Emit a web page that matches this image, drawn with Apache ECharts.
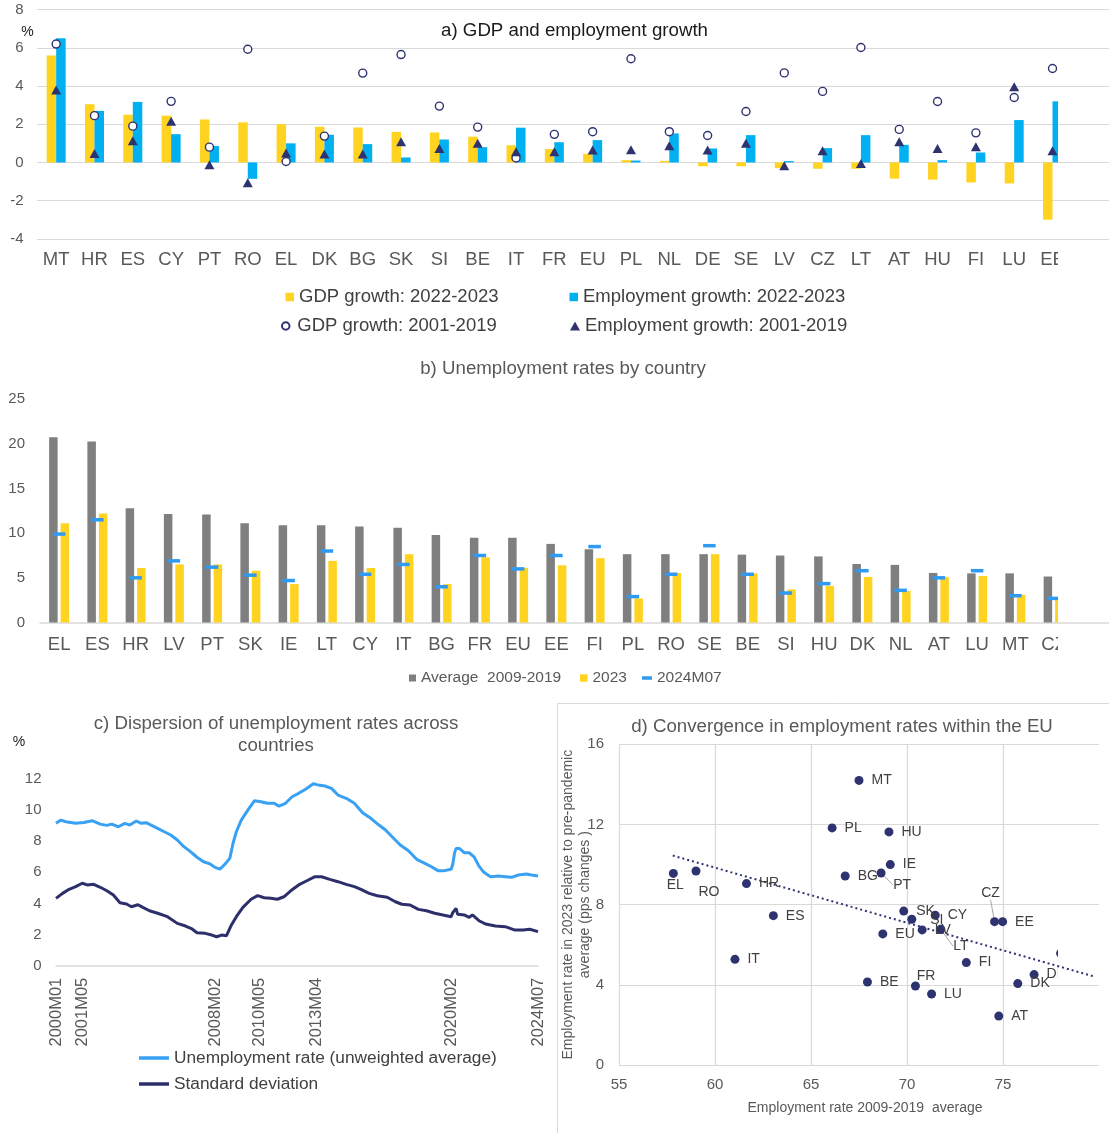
<!DOCTYPE html>
<html>
<head>
<meta charset="utf-8">
<title>Labour market indicators</title>
<script src="https://cdn.jsdelivr.net/npm/echarts@6/dist/echarts.min.js"></script>
<style>
  html, body { margin: 0; padding: 0; background: #fff; }
  #base  { position: absolute; left: 0; top: 0; width: 1109px; height: 1133px; }
  #marks { position: absolute; left: 0; top: 0; width: 1058px; height: 1133px; }
</style>
</head>
<body>
<div id="base"></div>
<div id="marks"></div>
<script>
// ---------- a) GDP and employment growth (%) ----------
const gdpCountries = ['MT','HR','ES','CY','PT','RO','EL','DK','BG','SK','SI','BE','IT','FR','EU','PL','NL','DE','SE','LV','CZ','LT','AT','HU','FI','LU','EE'];
const gdpGrowth2223 = [5.6, 3.05, 2.5, 2.45, 2.25, 2.1, 2.0, 1.87, 1.83, 1.6, 1.57, 1.35, 0.9, 0.7, 0.45, 0.12, 0.08, -0.2, -0.2, -0.3, -0.33, -0.33, -0.85, -0.9, -1.05, -1.1, -3.0];
const empGrowth2223 = [6.5, 2.7, 3.17, 1.48, 0.86, -0.86, 1.0, 1.45, 0.96, 0.26, 1.2, 0.8, 1.82, 1.06, 1.17, 0.1, 1.52, 0.73, 1.43, 0.07, 0.75, 1.43, 0.92, 0.12, 0.52, 2.22, 3.2];
const gdpGrowth0119 = [6.2, 2.45, 1.9, 3.2, 0.8, 5.93, 0.05, 1.38, 4.68, 5.65, 2.95, 1.85, 0.23, 1.47, 1.61, 5.43, 1.61, 1.41, 2.67, 4.69, 3.72, 6.02, 1.73, 3.19, 1.55, 3.4, 4.92];
const empGrowth0119 = [3.8, 0.47, 1.13, 2.16, -0.12, -1.06, 0.5, 0.44, 0.44, 1.08, 0.73, 1.0, 0.56, 0.56, 0.65, 0.66, 0.87, 0.65, 1.0, -0.17, 0.61, -0.05, 1.08, 0.73, 0.82, 3.96, 0.61];

// ---------- b) Unemployment rates by country (%) ----------
const ueCountries = ['EL','ES','HR','LV','PT','SK','IE','LT','CY','IT','BG','FR','EU','EE','FI','PL','RO','SE','BE','SI','HU','DK','NL','AT','LU','MT','CZ'];
const ueAvg0919 = [20.75, 20.26, 12.8, 12.16, 12.1, 11.1, 10.9, 10.9, 10.75, 10.6, 9.8, 9.5, 9.5, 8.8, 8.2, 7.65, 7.65, 7.65, 7.6, 7.5, 7.4, 6.55, 6.45, 5.55, 5.5, 5.5, 5.15];
const ue2023 = [11.1, 12.2, 6.1, 6.5, 6.5, 5.8, 4.3, 6.9, 6.1, 7.65, 4.3, 7.3, 6.1, 6.4, 7.2, 2.7, 5.55, 7.65, 5.5, 3.7, 4.1, 5.1, 3.55, 5.1, 5.2, 3.1, 2.6];
const ue2024M07 = [9.9, 11.5, 5.0, 6.9, 6.2, 5.3, 4.7, 8.0, 5.4, 6.5, 4.0, 7.5, 6.0, 7.5, 8.5, 2.9, 5.4, 8.6, 5.4, 3.3, 4.35, 5.8, 3.6, 5.0, 5.8, 3.0, 2.7];

// ---------- c) Dispersion of unemployment rates (%) ----------
const firstMonth = '2000M01', lastMonth = '2024M07';
const cTickLabels = ['2000M01','2001M05','2008M02','2010M05','2013M04','2020M02','2024M07'];
const urMonths = ['2000M01','2000M04','2000M07','2001M01','2001M06','2001M11','2002M04','2002M08','2002M11','2003M03','2003M07','2003M10','2004M02','2004M05','2004M08','2004M11','2005M03','2005M07','2005M11','2006M03','2006M07','2006M11','2007M03','2007M07','2007M11','2008M02','2008M05','2008M08','2008M11','2009M01','2009M03','2009M06','2009M10','2010M02','2010M06','2010M10','2011M02','2011M05','2011M09','2012M01','2012M05','2012M09','2013M02','2013M05','2013M09','2014M01','2014M05','2014M10','2015M03','2015M08','2016M01','2016M06','2016M10','2017M02','2017M07','2017M12','2018M05','2018M10','2019M02','2019M06','2019M10','2020M02','2020M03','2020M04','2020M05','2020M07','2020M10','2021M01','2021M04','2021M07','2021M10','2022M02','2022M07','2022M11','2023M03','2023M07','2023M12','2024M03','2024M07'];
const urValues = [9.15, 9.36, 9.25, 9.15, 9.2, 9.32, 9.1, 9.02, 9.1, 8.93, 9.15, 9.04, 9.3, 9.15, 9.19, 9.04, 8.83, 8.61, 8.4, 8.08, 7.65, 7.33, 6.97, 6.68, 6.54, 6.32, 6.21, 6.52, 6.9, 7.87, 8.61, 9.36, 10.0, 10.6, 10.54, 10.44, 10.44, 10.26, 10.44, 10.86, 11.08, 11.33, 11.7, 11.61, 11.55, 11.4, 10.97, 10.76, 10.44, 9.83, 9.47, 9.04, 8.72, 8.29, 7.76, 7.39, 6.84, 6.58, 6.36, 6.11, 6.11, 6.2, 6.5, 7.2, 7.54, 7.54, 7.26, 7.26, 7.0, 6.4, 6.0, 5.72, 5.76, 5.72, 5.68, 5.83, 5.89, 5.83, 5.76];
const sdMonths = ['2000M01','2000M05','2000M09','2001M01','2001M05','2001M08','2001M12','2002M04','2002M08','2002M12','2003M04','2003M08','2003M11','2004M03','2004M06','2004M10','2005M03','2005M09','2006M03','2006M08','2006M12','2007M03','2007M08','2007M12','2008M03','2008M06','2008M09','2008M12','2009M03','2009M07','2009M12','2010M04','2010M08','2010M12','2011M04','2011M08','2011M12','2012M05','2012M10','2013M03','2013M07','2013M12','2014M05','2014M10','2015M03','2015M07','2015M12','2016M05','2016M11','2017M04','2017M08','2018M01','2018M06','2018M11','2019M04','2019M09','2020M02','2020M03','2020M05','2020M06','2020M10','2021M01','2021M03','2021M07','2021M11','2022M05','2022M11','2023M05','2023M10','2024M02','2024M07'];
const sdValues = [4.33, 4.65, 4.91, 5.08, 5.3, 5.19, 5.23, 5.04, 4.82, 4.54, 4.05, 3.97, 3.79, 3.92, 3.75, 3.53, 3.37, 3.15, 2.72, 2.55, 2.36, 2.12, 2.08, 1.97, 1.86, 1.97, 1.93, 2.62, 3.15, 3.75, 4.27, 4.5, 4.37, 4.33, 4.27, 4.43, 4.8, 5.19, 5.46, 5.72, 5.72, 5.55, 5.4, 5.23, 5.08, 4.91, 4.65, 4.5, 4.4, 4.11, 3.95, 3.9, 3.62, 3.53, 3.37, 3.26, 3.15, 3.41, 3.69, 3.3, 3.26, 3.11, 3.26, 2.89, 2.68, 2.55, 2.51, 2.29, 2.29, 2.34, 2.19];

// ---------- d) Convergence in employment rates ----------
const convCountries = ['MT','PL','HU','IE','BG','PT','EL','RO','HR','ES','IT','SK','SI','CY','LV','LT','EU','CZ','EE','FI','BE','FR','LU','DK','DE','AT','NL'];
const empRateAvg0919 = [67.5, 66.1, 69.06, 69.13, 66.78, 68.65, 57.83, 59.01, 61.64, 63.04, 61.04, 69.83, 70.25, 71.47, 70.79, 71.76, 68.74, 74.56, 74.98, 73.09, 67.94, 70.44, 71.28, 75.77, 76.62, 74.78, 78.0];
const empRateChange = [14.2, 11.83, 11.63, 10.0, 9.43, 9.58, 9.56, 9.68, 9.05, 7.45, 5.27, 7.68, 7.27, 7.47, 6.74, 6.77, 6.54, 7.15, 7.15, 5.11, 4.14, 3.94, 3.54, 4.06, 4.51, 2.44, 5.57];
const trendX = [57.8, 79.8];
const trendY = [10.45, 4.4];

// ---------- styling ----------
const FONT = '"Liberation Sans", Arial, Helvetica, sans-serif';
const NAVY = '#2E3370';
const YELLOW = '#FFD320';
const CYAN = '#00B0F0';
const GREY_GRID = '#D9D9D9';
const AXIS_TXT = '#595959';

// plot areas, shared by both drawing layers
const GEOM = {
  a: { left: 37,  top: 9.7,   width: 1073, height: 229.1 },
  b: { left: 40,  top: 399.2, width: 1071, height: 223.3 },
  c: { left: 56,  top: 779,   width: 482,  height: 186.7 },
  d: { left: 619, top: 744.3, width: 480,  height: 320.7 }
};
const gridOf = k => Object.assign({ containLabel: false, outerBoundsMode: 'none', show: false }, GEOM[k]);

// month axis for panel c
const allMonths = [];
for (let y = +firstMonth.slice(0, 4); y <= +lastMonth.slice(0, 4); y++) {
  for (let m = 1; m <= 12; m++) {
    const s = y + 'M' + String(m).padStart(2, '0');
    allMonths.push(s);
    if (s === lastMonth) break;
  }
}
// category lists keep one spare slot at the right end
const aCats = gdpCountries.concat(['']);
const bCats = ueCountries.concat(['']);

const hidden = { show: false };

// ===== base layer: gridlines, axis line, trend line, frame (full width) =====
const base = echarts.init(document.getElementById('base'), null, { renderer: 'canvas' });
base.setOption({
  animation: false,
  backgroundColor: '#fff',
  textStyle: { fontFamily: FONT },
  grid: [gridOf('a'), gridOf('b'), gridOf('d')],
  xAxis: [
    { type: 'category', gridIndex: 0, data: aCats, axisLine: hidden, axisTick: hidden, axisLabel: hidden, splitLine: hidden },
    { type: 'category', gridIndex: 1, data: bCats, axisLine: { show: true, lineStyle: { color: GREY_GRID, width: 1.5 } }, axisTick: hidden, axisLabel: hidden, splitLine: hidden },
    { type: 'value', gridIndex: 2, min: 55, max: 80, interval: 5, axisLine: hidden, axisTick: hidden, axisLabel: hidden, splitLine: hidden }
  ],
  yAxis: [
    { type: 'value', gridIndex: 0, min: -4, max: 8, interval: 2, axisLine: hidden, axisTick: hidden, axisLabel: hidden,
      splitLine: { show: true, lineStyle: { color: GREY_GRID, width: 1.2 } } },
    { type: 'value', gridIndex: 1, min: 0, max: 25, interval: 5, axisLine: hidden, axisTick: hidden, axisLabel: hidden, splitLine: hidden },
    { type: 'value', gridIndex: 2, min: 0, max: 16, interval: 4, axisLine: hidden, axisTick: hidden, axisLabel: hidden,
      splitLine: { show: true, lineStyle: { color: GREY_GRID, width: 1.2 } } }
  ],
  series: [{
    type: 'line', xAxisIndex: 2, yAxisIndex: 2, silent: true,
    data: trendX.map((x, i) => [x, trendY[i]]),
    showSymbol: false,
    lineStyle: { color: NAVY, width: 2, type: [2, 3] }
  }],
  graphic: [{
    type: 'rect', silent: true, z: -10,
    shape: { x: 557.5, y: 703.5, width: 620, height: 500 },
    style: { fill: 'none', stroke: GREY_GRID, lineWidth: 1 }
  }]
});

// ===== marks layer: bars, markers, labels, legends, titles =====
const marks = echarts.init(document.getElementById('marks'), null, { renderer: 'canvas' });

function legendOne(name, left, top, opts, text) {
  return Object.assign({
    data: [name], left: left, top: top, padding: 0, itemGap: 0, selectedMode: false,
    textStyle: Object.assign({ fontFamily: FONT, color: '#404040' }, text)
  }, opts);
}
const legA = { fontSize: 18.5, lineHeight: 20, color: '#404040' };
const legB = { fontSize: 15.5, lineHeight: 18, color: AXIS_TXT };
const legC = { fontSize: 17.3, lineHeight: 20, color: '#404040' };

function titleText(text, x, y, color, extra) {
  return Object.assign({
    type: 'text', x: x, y: y, silent: true,
    style: { text: text, fontFamily: FONT, fontSize: 18.7, fill: color, align: 'center', verticalAlign: 'middle' }
  }, extra || {});
}

// label placement for the scatter in panel d (offset of label centre from point)
const labelNudge = { EL: [2, 12], RO: [13, 21], PT: [21, 12], SI: [25, 0.7], LT: [20, 17], CZ: [-4, -29], FR: [10.6, -10] };
const leaderLabels = ['PT', 'LT', 'CZ'];

marks.setOption({
  animation: false,
  backgroundColor: 'transparent',
  textStyle: { fontFamily: FONT },
  grid: [gridOf('a'), gridOf('b'), gridOf('c'), gridOf('d')],
  xAxis: [
    { type: 'category', gridIndex: 0, data: aCats, axisLine: hidden, axisTick: hidden, splitLine: hidden,
      axisLabel: { interval: 0, fontSize: 18.5, color: AXIS_TXT, margin: 12 } },
    { type: 'category', gridIndex: 1, data: bCats, axisLine: hidden, axisTick: hidden, splitLine: hidden,
      axisLabel: { interval: 0, fontSize: 18.5, color: AXIS_TXT, margin: 13 } },
    { type: 'category', gridIndex: 2, data: allMonths, boundaryGap: false,
      axisLine: { show: true, lineStyle: { color: GREY_GRID, width: 1.5 } }, axisTick: hidden, splitLine: hidden,
      axisLabel: { rotate: 90, fontSize: 16.5, color: AXIS_TXT, margin: 12,
        interval: (idx, value) => cTickLabels.indexOf(value) >= 0 } },
    { type: 'value', gridIndex: 3, min: 55, max: 80, interval: 5, axisLine: hidden, axisTick: hidden,
      splitLine: { show: true, lineStyle: { color: GREY_GRID, width: 1.2 } },
      axisLabel: { fontSize: 15, color: AXIS_TXT, margin: 12 },
      name: 'Employment rate 2009-2019  average', nameLocation: 'middle', nameGap: 36, nameMoveOverlap: false,
      nameTextStyle: { fontSize: 14, color: AXIS_TXT, padding: [0, 0, 0, 12] } }
  ],
  yAxis: [
    { type: 'value', gridIndex: 0, min: -4, max: 8, interval: 2, axisLine: hidden, axisTick: hidden, splitLine: hidden,
      axisLabel: { fontSize: 15, color: AXIS_TXT, margin: 13.5 } },
    { type: 'value', gridIndex: 1, min: 0, max: 25, interval: 5, axisLine: hidden, axisTick: hidden, splitLine: hidden,
      axisLabel: { fontSize: 15, color: AXIS_TXT, margin: 15 } },
    { type: 'value', gridIndex: 2, min: 0, max: 12, interval: 2, axisLine: hidden, axisTick: hidden, splitLine: hidden,
      axisLabel: { fontSize: 15, color: AXIS_TXT, margin: 14.5 } },
    { type: 'value', gridIndex: 3, min: 0, max: 16, interval: 4, axisLine: hidden, axisTick: hidden, splitLine: hidden,
      axisLabel: { fontSize: 15, color: AXIS_TXT, margin: 15 },
      name: 'Employment rate in 2023 relative to pre-pandemic\naverage (pps changes )',
      nameLocation: 'middle', nameRotate: 90, nameGap: 26, nameMoveOverlap: false,
      nameTextStyle: { fontSize: 14, color: AXIS_TXT, lineHeight: 16.6, align: 'center' } }
  ],
  legend: [
    legendOne('GDP growth: 2022-2023', 285.5, 287, { icon: 'rect', itemWidth: 8.5, itemHeight: 8.5 }, legA),
    legendOne('Employment growth: 2022-2023', 569.5, 287, { icon: 'rect', itemWidth: 8.5, itemHeight: 8.5 }, legA),
    legendOne('GDP growth: 2001-2019', 281, 316, { icon: 'circle', itemWidth: 13, itemHeight: 7.5 }, legA),
    legendOne('Employment growth: 2001-2019', 570, 316, { icon: 'triangle', itemWidth: 10, itemHeight: 9 }, legA),
    legendOne('Average  2009-2019', 409, 669, { icon: 'rect', itemWidth: 7, itemHeight: 7 }, legB),
    legendOne('2023', 580, 669, { icon: 'rect', itemWidth: 7.5, itemHeight: 7.5 }, legB),
    legendOne('2024M07', 642, 669, { icon: 'rect', itemWidth: 10, itemHeight: 3.5 }, legB),
    legendOne('Unemployment rate (unweighted average)', 139, 1048, { icon: 'rect', itemWidth: 30, itemHeight: 3.5 }, legC),
    legendOne('Standard deviation', 139, 1074, { icon: 'rect', itemWidth: 30, itemHeight: 3.5 }, legC)
  ],
  series: [
    // panel a
    { name: 'GDP growth: 2022-2023', type: 'bar', xAxisIndex: 0, yAxisIndex: 0, data: gdpGrowth2223,
      barWidth: 9.5, barGap: '0%', itemStyle: { color: YELLOW } },
    { name: 'Employment growth: 2022-2023', type: 'bar', xAxisIndex: 0, yAxisIndex: 0, data: empGrowth2223,
      barWidth: 9.5, barGap: '0%', itemStyle: { color: CYAN } },
    { name: 'GDP growth: 2001-2019', type: 'scatter', xAxisIndex: 0, yAxisIndex: 0, data: gdpGrowth0119,
      symbol: 'circle', symbolSize: 8, itemStyle: { color: '#fff', borderColor: NAVY, borderWidth: 1.4, opacity: 1 } },
    { name: 'Employment growth: 2001-2019', type: 'scatter', xAxisIndex: 0, yAxisIndex: 0, data: empGrowth0119,
      symbol: 'triangle', symbolSize: [10, 9], itemStyle: { color: NAVY, opacity: 1 } },
    // panel b
    { name: 'Average  2009-2019', type: 'bar', xAxisIndex: 1, yAxisIndex: 1, data: ueAvg0919,
      barWidth: 8.5, barGap: '35%', itemStyle: { color: '#7F7F7F' } },
    { name: '2023', type: 'bar', xAxisIndex: 1, yAxisIndex: 1, data: ue2023,
      barWidth: 8.5, barGap: '35%', itemStyle: { color: YELLOW } },
    { name: '2024M07', type: 'scatter', xAxisIndex: 1, yAxisIndex: 1, data: ue2024M07,
      symbol: 'rect', symbolSize: [12.5, 3.5], itemStyle: { color: '#2E9AF2', opacity: 1 } },
    // panel c
    { name: 'Unemployment rate (unweighted average)', type: 'line', xAxisIndex: 2, yAxisIndex: 2,
      data: urMonths.map((m, i) => [m, urValues[i]]), showSymbol: false,
      lineStyle: { color: '#39A1F4', width: 3 }, itemStyle: { color: '#39A1F4' } },
    { name: 'Standard deviation', type: 'line', xAxisIndex: 2, yAxisIndex: 2,
      data: sdMonths.map((m, i) => [m, sdValues[i]]), showSymbol: false,
      lineStyle: { color: '#2D2F6B', width: 3 }, itemStyle: { color: '#2D2F6B' } },
    // panel d
    { name: 'Countries', type: 'scatter', xAxisIndex: 3, yAxisIndex: 3,
      data: convCountries.map((c, i) => {
        const item = { name: c, value: [empRateAvg0919[i], empRateChange[i]] };
        if (leaderLabels.indexOf(c) >= 0) item.labelLine = { show: true, lineStyle: { color: '#A6A6A6', width: 1 } };
        return item;
      }),
      symbol: 'circle', symbolSize: 9, itemStyle: { color: NAVY, opacity: 1 },
      label: { show: true, position: 'right', distance: 8, formatter: '{b}', fontSize: 14, color: '#404040' },
      labelLine: { show: false },
      labelLayout: function (p) {
        const n = labelNudge[convCountries[p.dataIndex]];
        if (!n) return {};
        const cx = p.rect.x + p.rect.width / 2, cy = p.rect.y + p.rect.height / 2;
        return { x: cx + n[0], y: cy + n[1], align: 'center', verticalAlign: 'middle' };
      }
    }
  ],
  graphic: [
    titleText('a) GDP and employment growth', 574.5, 31, '#1A1A1A'),
    titleText('b) Unemployment rates by country', 563, 369, AXIS_TXT),
    titleText('c) Dispersion of unemployment rates across\ncountries', 276, 735, AXIS_TXT,
      { style: { text: 'c) Dispersion of unemployment rates across\ncountries', fontFamily: FONT, fontSize: 18.7,
                 lineHeight: 22, fill: AXIS_TXT, align: 'center', verticalAlign: 'middle' } }),
    titleText('d) Convergence in employment rates within the EU', 842, 726.7, AXIS_TXT),
    { type: 'text', x: 27.5, y: 32.5, silent: true,
      style: { text: '%', fontFamily: FONT, fontSize: 14, fill: '#1A1A1A', align: 'center', verticalAlign: 'middle' } },
    { type: 'text', x: 19, y: 742, silent: true,
      style: { text: '%', fontFamily: FONT, fontSize: 14, fill: '#1A1A1A', align: 'center', verticalAlign: 'middle' } }
  ]
});
</script>
</body>
</html>
